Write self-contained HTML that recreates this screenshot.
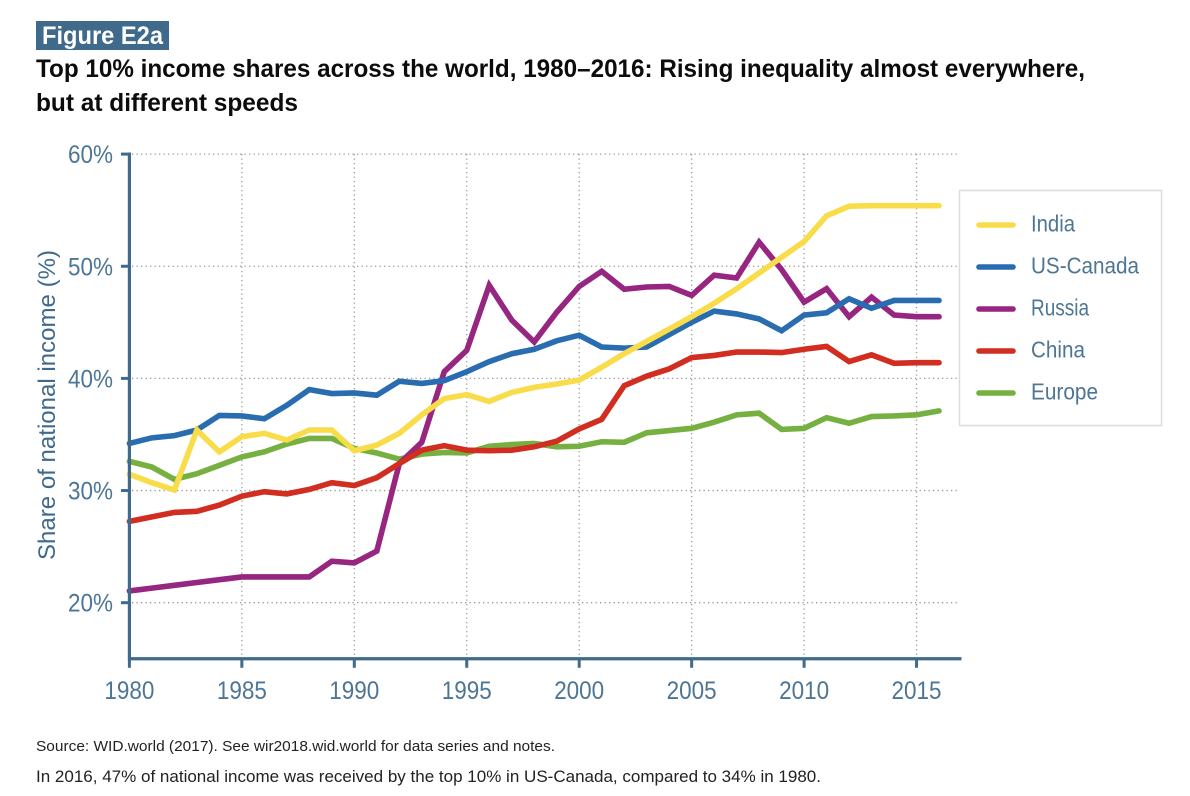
<!DOCTYPE html>
<html lang="en">
<head>
<meta charset="utf-8">
<title>Figure E2a</title>
<style>
html,body{margin:0;padding:0;background:#fff;width:1190px;height:796px;overflow:hidden}
svg{display:block;font-family:"Liberation Sans",sans-serif}
</style>
</head>
<body>
<svg id="chart" width="1190" height="796" viewBox="0 0 1190 796" xmlns="http://www.w3.org/2000/svg">
  <rect x="36" y="21" width="133" height="29" fill="#3f6a8c"/>
  <text x="42" y="44" font-size="25" font-weight="700" fill="#fff" textLength="121" lengthAdjust="spacingAndGlyphs">Figure E2a</text>
  <text x="36" y="77" font-size="25" font-weight="700" fill="#0c0c0c" textLength="1049" lengthAdjust="spacingAndGlyphs">Top 10% income shares across the world, 1980–2016: Rising inequality almost everywhere,</text>
  <text x="36" y="111" font-size="25" font-weight="700" fill="#0c0c0c" textLength="262" lengthAdjust="spacingAndGlyphs">but at different speeds</text>
  <g id="grid"></g>
  <g id="series"></g>
  <g id="axes"></g>
  <text transform="translate(55,405) rotate(-90)" text-anchor="middle" font-size="24.5" fill="#3f6a8c" textLength="310" lengthAdjust="spacingAndGlyphs">Share of national income (%)</text>
  <g id="legend">
    <rect x="959.5" y="190.5" width="202" height="235" fill="#fff" stroke="#d6dee4" stroke-width="1.5"/>
  </g>
  <text x="36" y="751" font-size="15" fill="#222" textLength="519" lengthAdjust="spacingAndGlyphs">Source: WID.world (2017). See wir2018.wid.world for data series and notes.</text>
  <text x="36" y="782" font-size="17" fill="#222" textLength="785" lengthAdjust="spacingAndGlyphs">In 2016, 47% of national income was received by the top 10% in US-Canada, compared to 34% in 1980.</text>
</svg>
<script>
var years = [1980,1981,1982,1983,1984,1985,1986,1987,1988,1989,1990,1991,1992,1993,1994,1995,1996,1997,1998,1999,2000,2001,2002,2003,2004,2005,2006,2007,2008,2009,2010,2011,2012,2013,2014,2015,2016];
var india = [31.45,30.7,30.05,35.4,33.45,34.8,35.1,34.5,35.4,35.4,33.55,34.05,35.1,36.75,38.2,38.55,37.95,38.75,39.2,39.5,39.85,41.0,42.2,43.3,44.4,45.5,46.7,48.0,49.4,50.8,52.2,54.5,55.35,55.4,55.4,55.4,55.4];
var usCanada = [34.2,34.7,34.9,35.4,36.7,36.65,36.4,37.6,39.0,38.65,38.7,38.5,39.75,39.55,39.8,40.6,41.5,42.2,42.6,43.35,43.85,42.8,42.7,42.8,43.9,45.0,46.0,45.75,45.3,44.25,45.65,45.85,47.1,46.25,46.95,46.95,46.95];
var russia = [21.05,21.3,21.55,21.8,22.05,22.3,22.3,22.3,22.3,23.7,23.55,24.6,32.4,34.3,40.6,42.5,48.3,45.2,43.25,45.9,48.2,49.55,47.95,48.15,48.2,47.4,49.2,48.95,52.15,49.7,46.8,48.0,45.5,47.25,45.65,45.5,45.5];
var china = [27.25,27.65,28.05,28.15,28.7,29.5,29.9,29.7,30.1,30.7,30.45,31.15,32.4,33.6,34.0,33.6,33.55,33.6,33.9,34.4,35.5,36.35,39.35,40.2,40.85,41.85,42.05,42.35,42.35,42.3,42.6,42.85,41.5,42.1,41.35,41.4,41.4];
var europe = [32.6,32.1,31.0,31.5,32.25,33.0,33.45,34.15,34.65,34.65,33.75,33.35,32.8,33.25,33.4,33.35,33.95,34.1,34.2,33.9,33.95,34.35,34.3,35.15,35.35,35.55,36.1,36.75,36.9,35.45,35.55,36.5,36.0,36.6,36.65,36.75,37.1];
var xTicks = [1980,1985,1990,1995,2000,2005,2010,2015];
var yTicks = [20,30,40,50,60];
var legendNames = ["India","US-Canada","Russia","China","Europe"];
var legendColors = ["#f9dc4a","#2a6cb0","#96267f","#d12d20","#76b041"];

var NS = "http://www.w3.org/2000/svg";
function x(year){ return 129.4 + (year - 1980) * 22.49; }
function y(v){ return 602.7 - (v - 20) * 11.215; }
function make(tag, attrs, parent, txt){
  var el = document.createElementNS(NS, tag);
  for (var k in attrs) el.setAttribute(k, attrs[k]);
  if (txt !== undefined) el.textContent = txt;
  parent.appendChild(el);
  return el;
}
var grid = document.getElementById("grid");
var axes = document.getElementById("axes");
var seriesG = document.getElementById("series");
var legend = document.getElementById("legend");
var AXIS = "#3f6a8c";
var LABEL = "#4d7594";
var yBottom = y(15);

yTicks.forEach(function(t){
  var g = make("line", {x1:132, x2:959, y1:y(t), y2:y(t), stroke:"#9a9a9a", "stroke-width":1.3, "stroke-dasharray":"1.3 3.2"}, grid);
  
  
  var tk = make("line", {x1:121, x2:129.4, y1:y(t), y2:y(t), stroke:AXIS, "stroke-width":3}, axes);
  
  
  var lb = make("text", {x:113, y:y(t) + 9, "text-anchor":"end", "font-size":25, fill:LABEL, textLength:45, lengthAdjust:"spacingAndGlyphs"}, axes, t + "%");
  
  
});
xTicks.forEach(function(t){
  if (t !== 1980) {
    var g = make("line", {x1:x(t), x2:x(t), y1:154, y2:yBottom - 2, stroke:"#9a9a9a", "stroke-width":1.3, "stroke-dasharray":"1.3 3.2"}, grid);
    
    
  }
  var tk = make("line", {x1:x(t), x2:x(t), y1:yBottom, y2:yBottom + 9, stroke:AXIS, "stroke-width":3}, axes);
  
  
  var lb = make("text", {x:x(t), y:699, "text-anchor":"middle", "font-size":25, fill:LABEL, textLength:50, lengthAdjust:"spacingAndGlyphs"}, axes, String(t));
  
  
});
var yAxis = make("line", {x1:129.4, x2:129.4, y1:152.5, y2:yBottom + 1.5, stroke:AXIS, "stroke-width":3.2}, axes);


var xAxis = make("line", {x1:128, x2:961.5, y1:yBottom, y2:yBottom, stroke:AXIS, "stroke-width":3.2}, axes);



function drawSeries(values, color, name){
  var pts = values.map(function(v, i){ return x(years[i]).toFixed(2) + "," + y(v).toFixed(2); }).join(" ");
  var p = make("polyline", {points:pts, fill:"none", stroke:color, "stroke-width":5.6, "stroke-linejoin":"miter", "stroke-linecap":"round"}, seriesG);
  
  
}
drawSeries(europe, legendColors[4], "series-europe");
drawSeries(russia, legendColors[2], "series-russia");
drawSeries(usCanada, legendColors[1], "series-us-canada");
drawSeries(china, legendColors[3], "series-china");
drawSeries(india, legendColors[0], "series-india");

var legendWidths = [44,108,58,54,67];
legendNames.forEach(function(n, i){
  var ly = 225 + i * 42;
  var sw = make("line", {x1:979, x2:1013, y1:ly, y2:ly, stroke:legendColors[i], "stroke-width":5.6, "stroke-linecap":"round"}, legend);
  
  
  var t = make("text", {x:1031, y:ly + 6.5, "font-size":23, fill:LABEL, textLength:legendWidths[i], lengthAdjust:"spacingAndGlyphs"}, legend, n);
  
  
});
</script>
</body>
</html>
